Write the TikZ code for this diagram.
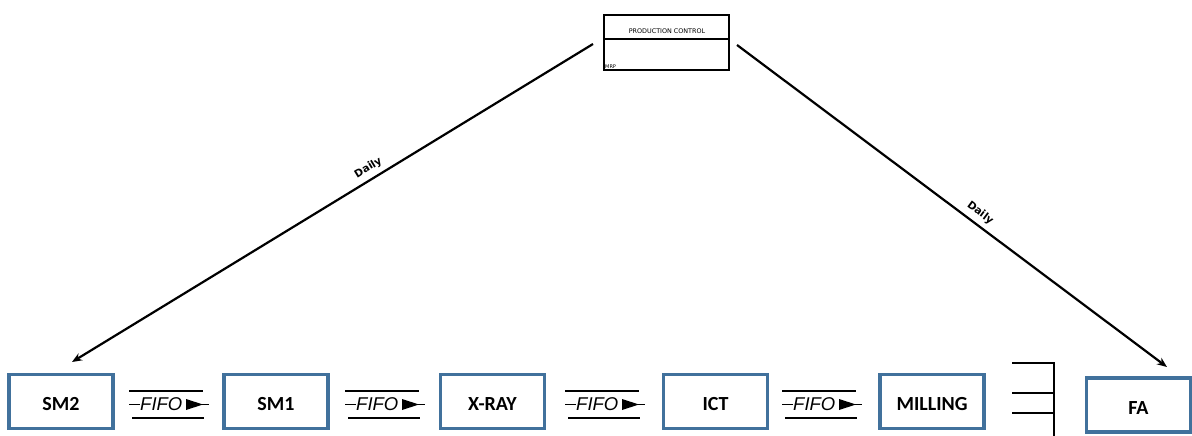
\documentclass[tikz,border=0pt]{standalone}
\usepackage{fontspec}
\setmainfont{Carlito}
\newfontfamily\arialfont{Liberation Sans}
\newfontfamily\dvfont{DejaVu Sans}
\usetikzlibrary{arrows.meta}
\definecolor{procblue}{HTML}{41719C}
\begin{document}
\begin{tikzpicture}[x=1pt,y=-1pt,
  procbox/.style={draw=procblue,line width=3.2pt,fill=white,minimum width=104pt,minimum height=54pt,
    inner sep=0pt,text height=18pt,text depth=0pt,font=\fontsize{20}{20}\selectfont\bfseries},
  flowline/.style={line width=2.2pt,-{Stealth[length=10pt,width=8pt]}},
  dailylbl/.style={font=\dvfont\bfseries\fontsize{10.5}{10.5}\selectfont,sloped,above,inner sep=5pt},
  fifotxt/.style={font=\arialfont\itshape\fontsize{18.5}{18.5}\selectfont,inner sep=0pt,anchor=west},
  rule/.style={line width=1.4pt}]
\useasboundingbox (0,0) rectangle (1192,436);

% production control box
\node (pc) at (666.5,42.5) [draw,line width=2.4pt,minimum width=125pt,minimum height=55pt,inner sep=0pt] {};
\draw[line width=2.2pt] (604,39) -- (729,39);
\node at (667,31) [font=\dvfont\fontsize{6.4}{6.4}\selectfont,inner sep=0pt] {PRODUCTION CONTROL};
\node at (605,66.5) [anchor=west,font=\dvfont\fontsize{5}{5}\selectfont,inner sep=0pt] {MRP};

% processes
\node[procbox] (sm2) at (61,401.5) {SM2};
\node[procbox] (sm1) at (276,401.5) {SM1};
\node[procbox] (xray) at (492.5,401.5) {X-RAY};
\node[procbox] (ict) at (715.5,401.5) {ICT};
\node[procbox] (mill) at (932,401.5) {MILLING};
\node[procbox] (fa) at (1138.5,405) {FA};

% information flow
\coordinate (pcl) at (593,44);
\coordinate (pcr) at (737,45);
\coordinate (sm2in) at (72,362);
\coordinate (fain) at (1167,367);
\draw[flowline] (pcl) -- node[dailylbl,pos=0.42] {Daily} (sm2in);
\draw[flowline] (pcr) -- node[dailylbl,pos=0.55] {Daily} (fain);

% FIFO lanes
\foreach \x/\n in {129/f1,345/f2,565/f3,782/f4}{
  \begin{scope}[shift={(\x,0)}]
    \draw[rule] (0,391) -- (74,391);
    \draw[rule] (3,418) -- (75,418);
    \draw[line width=1.2pt] (0,404.5) -- (11,404.5);
    \node[fifotxt] (\n) at (11,404.5) {FIFO};
    \fill (57,399) -- (74,404.5) -- (57,410) -- cycle;
    \draw[line width=0.8pt] (70,404.5) -- (80,404.5);
  \end{scope}
}

% supermarket
\draw[line width=2.2pt] (1012,363) -- (1054,363) -- (1054,436);
\draw[line width=2.2pt] (1012,393) -- (1054,393);
\draw[line width=2.2pt] (1012,413) -- (1054,413);
\end{tikzpicture}
\end{document}
